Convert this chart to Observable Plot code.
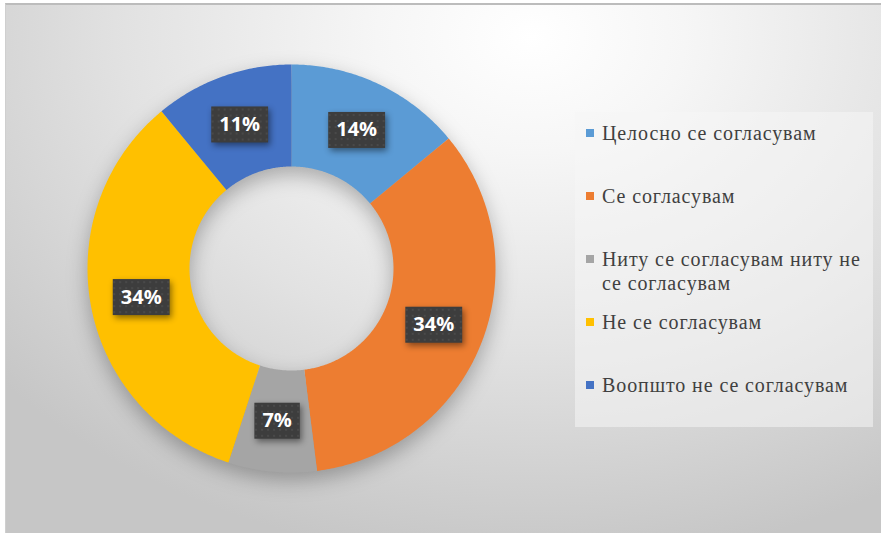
<!DOCTYPE html>
<html><head><meta charset="utf-8">
<script src="https://cdn.jsdelivr.net/npm/d3@7"></script>
<script src="https://cdn.jsdelivr.net/npm/@observablehq/plot@0.6"></script>
<style>
html,body{margin:0;padding:0;background:#fff;width:881px;height:533px;overflow:hidden}
#frame{position:absolute;left:5px;top:3px;width:876px;height:530px;box-sizing:border-box;border-top:2px solid #bcbcbc;border-left:1px solid #cfcfcf;
background: radial-gradient(ellipse 80% 100% at 60% 6%, #ffffff 0%, #f6f6f6 22%, #e2e2e2 58%, #c6c6c6 100%);}
#chart{position:absolute;left:0;top:0}
#legend{position:absolute;left:575px;top:112px;width:298px;height:315px;background:rgba(246,246,246,0.55);font-family:'Liberation Serif','Times New Roman','Tinos','DejaVu Serif',serif;font-size:20px;color:#404040;box-sizing:border-box;padding-top:9px}
.item{position:relative;height:63px;padding-left:27px;line-height:24px}
.txt{display:block;width:268px;letter-spacing:0.9px}
.sw{position:absolute;left:11px;top:8px;width:8px;height:8px}
</style>
</head><body>
<div id="frame"></div>
<div id="chart"></div>
<div id="legend"></div>
<script>
const categories = ["Целосно се согласувам","Се согласувам","Ниту се согласувам ниту не се согласувам","Не се согласувам","Воопшто не се согласувам"];
const values = [14, 34, 7, 34, 11];
const labels = ["14%","34%","7%","34%","11%"];
const colors = ["#5B9BD5","#ED7D31","#A5A5A5","#FFC000","#4472C4"];

const inner = 0.5, outer = 1;
const arcs = d3.pie().sort(null).startAngle(0).endAngle(2*Math.PI)(values);
const poly = [];
const centroids = [];
arcs.forEach((a, i) => {
  const c = categories[i];
  const n = Math.max(4, Math.ceil((a.endAngle - a.startAngle) / 0.01));
  for (let k = 0; k <= n; k++) {
    const t = a.startAngle + (a.endAngle - a.startAngle) * k / n;
    poly.push({c, x: outer*Math.sin(t), y: outer*Math.cos(t)});
  }
  for (let k = n; k >= 0; k--) {
    const t = a.startAngle + (a.endAngle - a.startAngle) * k / n;
    poly.push({c, x: inner*Math.sin(t), y: inner*Math.cos(t)});
  }
  const m = (a.startAngle + a.endAngle) / 2, r = (inner + outer) / 2;
  centroids.push({c, label: labels[i], x: r*Math.sin(m), y: r*Math.cos(m)});
});

const R = 204, cx = 291, cy = 268;
const svg = Plot.plot({
  width: 881, height: 533, margin: 0,
  x: {domain: [-1, 1], range: [cx - R, cx + R], axis: null},
  y: {domain: [-1, 1], range: [cy + R, cy - R], axis: null},
  color: {type: "ordinal", domain: categories, range: colors},
  style: {background: "transparent", overflow: "visible"},
  marks: [
    Plot.line(poly, {x: "x", y: "y", z: "c", fill: "c", stroke: "none"}),
    Plot.text(centroids, {x: "x", y: "y", text: "label", fill: "white", fontSize: 20, fontWeight: "bold", fontFamily: "Open Sans, sans-serif"})
  ]
});
document.getElementById("chart").appendChild(svg);

const lineG = svg.querySelector('g[aria-label="line"]');
lineG.style.filter = "drop-shadow(0px 8px 10px rgba(0,0,0,0.28))";

const ns = "http://www.w3.org/2000/svg";
const defs = document.createElementNS(ns, "defs");
defs.innerHTML = '<pattern id="dots" width="6" height="6" patternUnits="userSpaceOnUse"><rect width="6" height="6" fill="#3d3d3d"/><circle cx="3" cy="3" r="0.9" fill="#4f4f4f"/></pattern>';
svg.insertBefore(defs, svg.firstChild);

const textG = svg.querySelector('g[aria-label="text"]');
textG.querySelectorAll("text").forEach(t => {
  const b = t.getBBox();
  const rect = document.createElementNS(ns, "rect");
  const h = 36, cyb = b.y + b.height/2 + 1;
  rect.setAttribute("x", b.x - 8);
  rect.setAttribute("y", cyb - h/2);
  rect.setAttribute("width", b.width + 16);
  rect.setAttribute("height", h);
  rect.setAttribute("fill", "url(#dots)");
  rect.style.filter = "drop-shadow(2px 3px 3px rgba(0,0,0,0.45))";
  if (t.getAttribute("transform")) rect.setAttribute("transform", t.getAttribute("transform"));
  textG.insertBefore(rect, t);
});

const lg = document.getElementById("legend");
categories.forEach((c, i) => {
  const it = document.createElement("div");
  it.className = "item";
  const sw = document.createElement("span");
  sw.className = "sw";
  sw.style.background = colors[i];
  it.appendChild(sw);
  const tx = document.createElement("span");
  tx.className = "txt";
  tx.textContent = c;
  it.appendChild(tx);
  lg.appendChild(it);
});
</script>
</body></html>
